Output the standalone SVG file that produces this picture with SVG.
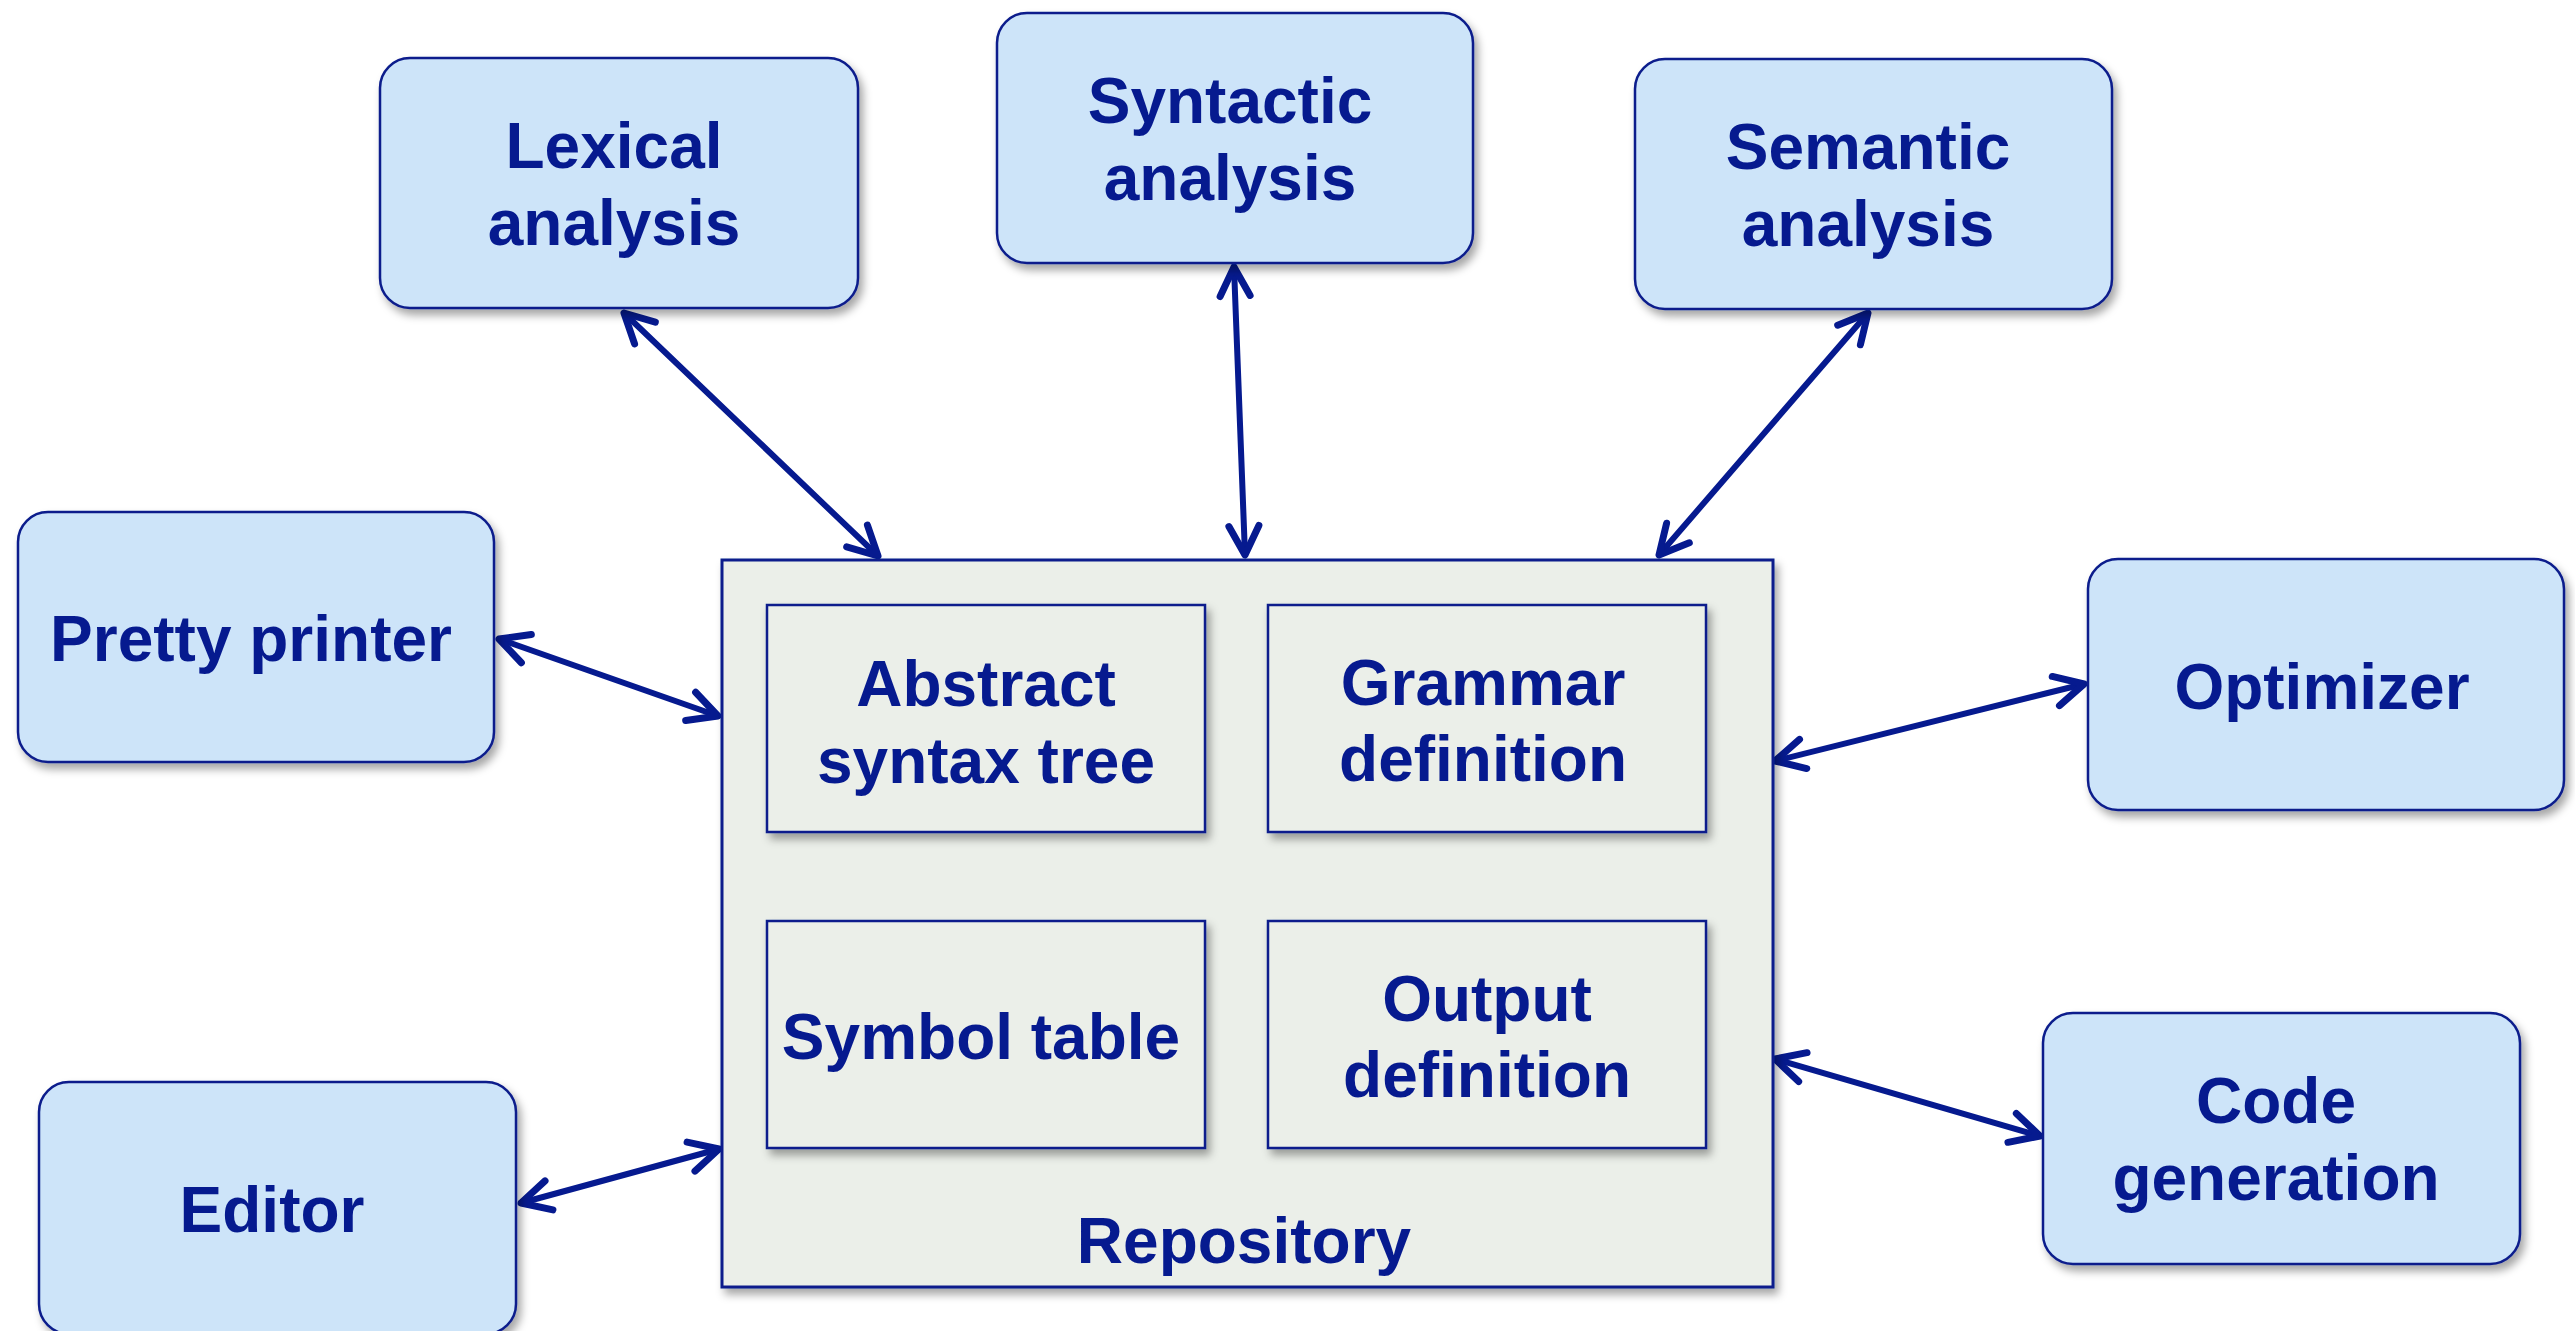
<svg xmlns="http://www.w3.org/2000/svg" width="2575" height="1331" viewBox="0 0 2575 1331">
  <style>
    .tool { fill: #CDE4F9; stroke: #0A1E8C; stroke-width: 2.5; filter: url(#shadow); }
    .repo { fill: #EBEFE9; stroke: #0A1E8C; stroke-width: 3; filter: url(#shadow); }
    .part { fill: #EBEFE9; stroke: #0A1E8C; stroke-width: 2.5; filter: url(#shadow); }
    .lbl { font-family: "Liberation Sans", Arial, sans-serif; font-weight: bold; font-size: 64px; fill: #061A8F; text-anchor: middle; }
    .conn { stroke: #061A8F; stroke-width: 6; fill: none; stroke-linecap: round; marker-start: url(#arr); marker-end: url(#arr); }
  </style>
  <defs>
    <filter id="shadow" x="-10%" y="-10%" width="130%" height="130%">
      <feDropShadow dx="4" dy="6" stdDeviation="4" flood-color="#000" flood-opacity="0.35"/>
    </filter>
    <marker id="arr" markerUnits="userSpaceOnUse" orient="auto-start-reverse" refX="0" refY="0" markerWidth="80" markerHeight="80" viewBox="-40 -40 80 80" overflow="visible">
      <path d="M -29,-15 L 0,0 L -29,15" fill="none" stroke="#061A8F" stroke-width="7" stroke-linecap="round" stroke-linejoin="round"/>
    </marker>
  </defs>
  <rect width="2575" height="1331" fill="#FFFFFF"/>

  <g id="connectors">
    <path class="conn" d="M 624,313 L 878,556"/>
    <path class="conn" d="M 1234,267 L 1245,555"/>
    <path class="conn" d="M 1868,313 L 1659,555"/>
    <path class="conn" d="M 499,639 L 718,716"/>
    <path class="conn" d="M 2084,684 L 1775,761"/>
    <path class="conn" d="M 2040,1136 L 1775,1059"/>
    <path class="conn" d="M 521,1203 L 719,1149"/>
  </g>

  <g id="repository">
    <rect class="repo" x="722" y="560" width="1051" height="727"/>
    <text class="lbl" x="1244" y="1263">Repository</text>
  </g>
  <g id="ast">
    <rect class="part" x="767" y="605" width="438" height="227"/>
    <text class="lbl" x="986" y="706">Abstract</text>
    <text class="lbl" x="986" y="783">syntax tree</text>
  </g>
  <g id="grammar">
    <rect class="part" x="1268" y="605" width="438" height="227"/>
    <text class="lbl" x="1483" y="705">Grammar</text>
    <text class="lbl" x="1483" y="781">definition</text>
  </g>
  <g id="symbol-table">
    <rect class="part" x="767" y="921" width="438" height="227"/>
    <text class="lbl" x="981" y="1059">Symbol table</text>
  </g>
  <g id="output-def">
    <rect class="part" x="1268" y="921" width="438" height="227"/>
    <text class="lbl" x="1487" y="1021">Output</text>
    <text class="lbl" x="1487" y="1097">definition</text>
  </g>

  <g id="lexical">
    <rect class="tool" x="380" y="58" width="478" height="250" rx="30"/>
    <text class="lbl" x="614" y="168">Lexical</text>
    <text class="lbl" x="614" y="245">analysis</text>
  </g>
  <g id="syntactic">
    <rect class="tool" x="997" y="13" width="476" height="250" rx="30"/>
    <text class="lbl" x="1230" y="123">Syntactic</text>
    <text class="lbl" x="1230" y="200">analysis</text>
  </g>
  <g id="semantic">
    <rect class="tool" x="1635" y="59" width="477" height="250" rx="30"/>
    <text class="lbl" x="1868" y="169">Semantic</text>
    <text class="lbl" x="1868" y="246">analysis</text>
  </g>
  <g id="pretty-printer">
    <rect class="tool" x="18" y="512" width="476" height="250" rx="30"/>
    <text class="lbl" x="251" y="661">Pretty printer</text>
  </g>
  <g id="optimizer">
    <rect class="tool" x="2088" y="559" width="476" height="251" rx="30"/>
    <text class="lbl" x="2322" y="709">Optimizer</text>
  </g>
  <g id="code-generation">
    <rect class="tool" x="2043" y="1013" width="477" height="251" rx="30"/>
    <text class="lbl" x="2276" y="1123">Code</text>
    <text class="lbl" x="2276" y="1200">generation</text>
  </g>
  <g id="editor">
    <rect class="tool" x="39" y="1082" width="477" height="252" rx="30"/>
    <text class="lbl" x="272" y="1232">Editor</text>
  </g>
</svg>
